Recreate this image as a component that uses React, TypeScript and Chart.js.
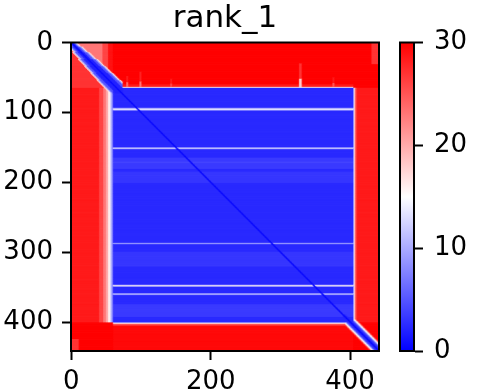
import React, { useEffect, useRef } from "react";
import { Chart, registerables } from "chart.js";

Chart.register(...registerables);

// ---------------- data ----------------
const title = "rank_1";
const N = 442; // residues
const vmin = 0;
const vmax = 30;
const xTicks = [0, 200, 400];
const yTicks = [0, 100, 200, 300, 400];
const cbarTicks = [0, 10, 20, 30];
const cmapStops = [0, 0.5, 1];
const cmapColors = ["#0000ff", "#ffffff", "#ff0000"];

// well-aligned central block (rows / cols, inclusive)
const coreRows = [65, 400];
const coreCols = [60, 404];
const corePAE = 2.4;
const flankPAE = 30;

// diagonal (self) values by |i-j|
const diagPAE = [0.2, 1.2];

// light horizontal streaks inside the central block
const streakRows = [93, 94, 95, 96, 97, 150, 151, 152, 171, 172, 287, 288, 347, 348, 349, 359, 360, 361];
const streakPAE = [5, 10, 14, 12, 6, 8, 13, 8, 4, 4, 8, 9, 9, 16, 10, 7, 12, 7];

// slightly lighter row bands inside the central block
const coreBandStart = [165, 185, 300, 375];
const coreBandEnd = [180, 200, 320, 392];
const coreBandPAE = [3.4, 3.2, 3.2, 3.4];

// left flank (cols 0..59 of the central rows)
const leftFlankCols = [0, 40, 46, 50, 53, 56, 58];
const leftFlankPAE = [28.5, 26, 23, 20, 16, 12, 8];

// top flank (rows 0..64 of the central cols)
const topFlankRows = [0, 60, 63, 64];
const topFlankPAE = [30, 28.5, 25, 14];

// right flank (cols 405..441 of the central rows)
const rightFlankCols = [405, 406, 407, 408, 410];
const rightFlankPAE = [11, 17, 22, 26, 28.5];

// bottom flank (rows 401..441 of the central cols)
const bottomFlankRows = [401, 402, 403, 404, 406];
const bottomFlankPAE = [11, 17, 23, 27, 29.5];

// lighter vertical "flames" rising from the top of the block
const flameStart = [79, 98, 142, 327, 375];
const flameEnd = [81, 100, 144, 330, 377];
const flameTop = [48, 42, 52, 30, 50];
const flameBase = [57, 56, 59, 52, 58];
const flameTopPAE = [28.5, 28, 28.5, 27, 28.5];
const flameBasePAE = [24, 23, 26, 18, 25];

// N-terminal segment (rows/cols 0..64)
const nBandRows = [0, 6, 14, 24, 34, 44, 54];
const nBandCore = [2, 3, 4, 6, 7, 8, 8];
const nBandHalf = [4, 6, 8, 10, 11, 12, 13];
const nBandPAE = [2, 5, 10, 17];
const nUpperCols = [0, 45, 53];
const nUpperPAE = [23, 26, 29];
const nLowerPAE = 27;

// C-terminal segment: PAE by |i-j|
const cBandFrom = 390;
const cBandPAE = [1, 2, 2, 3, 3, 4, 6, 9, 12, 15, 18, 22, 26, 29];

// small lighter patches
const patchR0 = [0, 425];
const patchR1 = [30, 441];
const patchC0 = [431, 0];
const patchC1 = [441, 10];
const patchPAE = [27, 27];

// ---------------- matrix assembly ----------------
function step(edges: number[], values: number[], k: number) {
  let idx = 0;
  for (let e = 0; e < edges.length; e++) if (edges[e] <= k) idx = e;
  return values[idx];
}

function buildMatrix() {
  const m = new Float32Array(N * N);
  for (let i = 0; i < N; i++) {
    for (let j = 0; j < N; j++) {
      const rIn = i >= coreRows[0] && i <= coreRows[1];
      const cIn = j >= coreCols[0] && j <= coreCols[1];
      let v = flankPAE;
      if (rIn && cIn) {
        v = corePAE;
        for (let b = 0; b < coreBandStart.length; b++) {
          if (i >= coreBandStart[b] && i <= coreBandEnd[b]) v = coreBandPAE[b];
        }
        const s = streakRows.indexOf(i);
        if (s >= 0) v = streakPAE[s];
      } else if (rIn && j < coreCols[0]) {
        v = step(leftFlankCols, leftFlankPAE, j);
      } else if (rIn && j > coreCols[1]) {
        v = step(rightFlankCols, rightFlankPAE, j);
      } else if (i < coreRows[0] && cIn) {
        v = step(topFlankRows, topFlankPAE, i);
        for (let f = 0; f < flameStart.length; f++) {
          if (j >= flameStart[f] && j <= flameEnd[f]) {
            if (i >= flameBase[f]) v = Math.min(v, flameBasePAE[f]);
            else if (i >= flameTop[f]) v = Math.min(v, flameTopPAE[f]);
          }
        }
      } else if (i > coreRows[1] && cIn) {
        v = step(bottomFlankRows, bottomFlankPAE, i);
      } else if (i < coreRows[0] && j < coreCols[0]) {
        v = j > i ? step(nUpperCols, nUpperPAE, j) : nLowerPAE;
      }
      for (let p = 0; p < patchPAE.length; p++) {
        if (i >= patchR0[p] && i <= patchR1[p] && j >= patchC0[p] && j <= patchC1[p]) v = Math.min(v, patchPAE[p]);
      }
      const d = Math.abs(i - j);
      if (i < coreRows[0] + 8 && j < coreCols[0] + 14) {
        const core = step(nBandRows, nBandCore, i);
        const half = step(nBandRows, nBandHalf, i);
        let bv = Infinity;
        if (d <= core) bv = nBandPAE[0];
        else if (d <= half) bv = nBandPAE[1];
        else if (d <= half + 2) bv = nBandPAE[2];
        else if (d <= half + 4) bv = nBandPAE[3];
        v = Math.min(v, bv);
      }
      if (i >= cBandFrom && j >= cBandFrom && d < cBandPAE.length) v = Math.min(v, cBandPAE[d]);
      if (d < diagPAE.length) v = Math.min(v, diagPAE[d]);
      m[i * N + j] = v;
    }
  }
  return m;
}

const paeMatrix = buildMatrix();

const colorCache = new Map<number, string>();
function bwr(v: number) {
  const c = colorCache.get(v);
  if (c) return c;
  const t = Math.max(0, Math.min(1, (v - vmin) / (vmax - vmin)));
  let r: number, g: number, b: number;
  if (t < 0.5) {
    r = g = Math.round(510 * t);
    b = 255;
  } else {
    r = 255;
    g = b = Math.round(510 * (1 - t));
  }
  const s = `rgb(${r},${g},${b})`;
  colorCache.set(v, s);
  return s;
}

const FONT = "DejaVu Sans";

const heatmapPlugin = {
  id: "paeHeatmap",
  beforeDatasetsDraw(chart: any) {
    const { ctx, chartArea, scales } = chart;
    const xs = scales.x;
    const ys = scales.y;
    ctx.save();
    ctx.beginPath();
    ctx.rect(chartArea.left, chartArea.top, chartArea.right - chartArea.left, chartArea.bottom - chartArea.top);
    ctx.clip();
    for (let i = 0; i < N; i++) {
      const y0 = ys.getPixelForValue(i - 0.5);
      const y1 = ys.getPixelForValue(i + 0.5);
      let j = 0;
      while (j < N) {
        const v = paeMatrix[i * N + j];
        let k = j + 1;
        while (k < N && paeMatrix[i * N + k] === v) k++;
        const x0 = xs.getPixelForValue(j - 0.5);
        const x1 = xs.getPixelForValue(k - 0.5);
        ctx.fillStyle = bwr(v);
        ctx.fillRect(x0, y0, x1 - x0 + 0.75, y1 - y0 + 0.75);
        j = k;
      }
    }
    ctx.restore();
  },
};

const framePlugin = {
  id: "frame",
  afterDraw(chart: any) {
    const { ctx, chartArea } = chart;
    ctx.save();
    ctx.strokeStyle = "#000";
    ctx.lineWidth = 2;
    ctx.strokeRect(chartArea.left, chartArea.top, chartArea.right - chartArea.left, chartArea.bottom - chartArea.top);
    ctx.restore();
  },
};

// axes title centred over the plot area (matplotlib style)
const axesTitlePlugin = {
  id: "axesTitle",
  afterDraw(chart: any) {
    const { ctx, chartArea } = chart;
    ctx.save();
    ctx.fillStyle = "#000";
    ctx.font = `31px "${FONT}"`;
    ctx.textAlign = "center";
    ctx.textBaseline = "alphabetic";
    ctx.fillText(title, (chartArea.left + chartArea.right) / 2, chartArea.top - 15.6);
    ctx.restore();
  },
};

function cbarFill(c: any) {
  const ch = c.chart;
  const ys = ch.scales && ch.scales.y;
  if (!ch.chartArea || !ys) return "#ffffff";
  const p0 = ys.getPixelForValue(vmin);
  const p1 = ys.getPixelForValue(vmax);
  if (!Number.isFinite(p0) || !Number.isFinite(p1)) return "#ffffff";
  const g = ch.ctx.createLinearGradient(0, p0, 0, p1);
  cmapStops.forEach((s, k) => g.addColorStop(s, cmapColors[k]));
  return g;
}

export default function App() {
  const mainRef = useRef<HTMLCanvasElement>(null);
  const cbarRef = useRef<HTMLCanvasElement>(null);

  useEffect(() => {
    const tickFont = { family: FONT, size: 26 };
    let main: Chart | null = null;
    let cbar: Chart | null = null;
    try {
      main = new Chart(mainRef.current as HTMLCanvasElement, {
        type: "scatter",
        data: { datasets: [{ data: [] }] },
        plugins: [heatmapPlugin, framePlugin, axesTitlePlugin],
        options: {
          animation: false,
          responsive: false,
          devicePixelRatio: 1,
          layout: { padding: { left: 0, right: 105, top: 42.5, bottom: 0 } },
          plugins: {
            legend: { display: false },
            tooltip: { enabled: false },
            title: { display: false },
          },
          scales: {
            x: {
              type: "linear",
              position: "bottom",
              min: -0.5,
              max: N - 0.5,
              afterBuildTicks: (s: any) => {
                s.ticks = xTicks.map((v) => ({ value: v }));
              },
              afterFit: (s: any) => {
                s.height = 41;
              },
              ticks: { autoSkip: false, maxRotation: 0, padding: 7, color: "#000", font: tickFont, callback: (v: any) => String(v) },
              grid: { display: true, drawOnChartArea: false, drawTicks: true, tickLength: 9, tickWidth: 2, tickColor: "#000", color: "#000" },
              border: { display: true, color: "#000", width: 2 },
            },
            y: {
              type: "linear",
              reverse: true,
              min: -0.5,
              max: N - 0.5,
              afterBuildTicks: (s: any) => {
                s.ticks = yTicks.map((v) => ({ value: v }));
              },
              afterFit: (s: any) => {
                s.width = 71;
              },
              ticks: { autoSkip: false, padding: 9, color: "#000", font: tickFont, callback: (v: any) => String(v) },
              grid: { display: true, drawOnChartArea: false, drawTicks: true, tickLength: 9, tickWidth: 2, tickColor: "#000", color: "#000" },
              border: { display: true, color: "#000", width: 2 },
            },
          },
        },
      } as any);

      cbar = new Chart(cbarRef.current as HTMLCanvasElement, {
        type: "bar",
        data: {
          labels: ["PAE"],
          datasets: [
            {
              data: [[vmin, vmax]],
              borderWidth: 0,
              barPercentage: 1,
              categoryPercentage: 1,
              backgroundColor: cbarFill,
            },
          ],
        },
        plugins: [framePlugin],
        options: {
          animation: false,
          responsive: false,
          devicePixelRatio: 1,
          layout: { padding: { left: 400, right: 0, top: 42.5, bottom: 41 } },
          plugins: { legend: { display: false }, tooltip: { enabled: false }, title: { display: false } },
          scales: {
            x: { display: false },
            y: {
              position: "right",
              min: vmin,
              max: vmax,
              afterBuildTicks: (s: any) => {
                s.ticks = cbarTicks.map((v) => ({ value: v }));
              },
              afterFit: (s: any) => {
                s.width = 70;
              },
              ticks: { autoSkip: false, padding: 11, color: "#000", font: tickFont, callback: (v: any) => String(v) },
              grid: { display: true, drawOnChartArea: false, drawTicks: true, tickLength: 9, tickWidth: 2, tickColor: "#000", color: "#000" },
              border: { display: true, color: "#000", width: 2 },
            },
          },
        },
      } as any);
    } catch (e) {
      console.error(e);
    }

    return () => {
      if (main) main.destroy();
      if (cbar) cbar.destroy();
    };
  }, []);

  return (
    <div style={{ position: "fixed", left: 0, top: 0, width: 484, height: 392, background: "#fff" }}>
      <canvas ref={mainRef} width={484} height={392} style={{ position: "absolute", left: 0, top: 0 }} />
      <canvas ref={cbarRef} width={484} height={392} style={{ position: "absolute", left: 0, top: 0 }} />
    </div>
  );
}
